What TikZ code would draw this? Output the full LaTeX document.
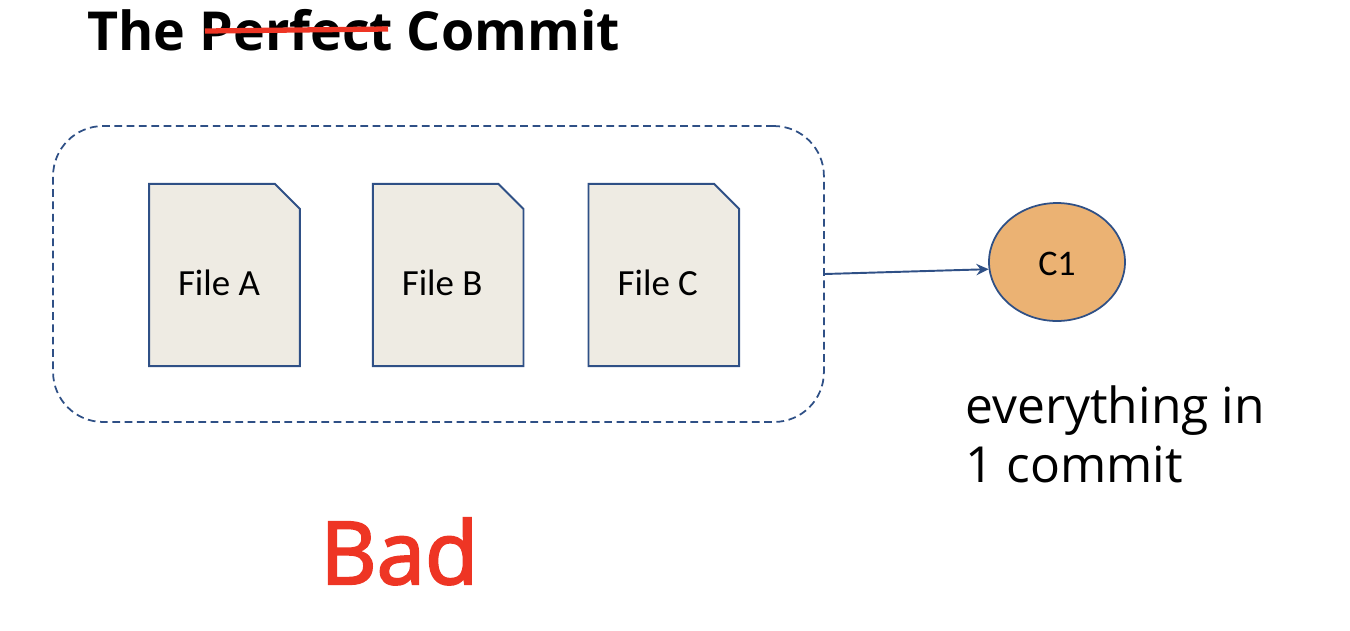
\documentclass[tikz,border=0pt]{standalone}
\usepackage{fontspec}
\setmainfont{Open Sans}
\newfontfamily\calibrifont{Carlito}
\newfontfamily\badfont[FakeBold=2.5]{Open Sans}
\usepackage{xcolor}
\usetikzlibrary{shapes.geometric,arrows.meta,positioning,backgrounds,calc}
\definecolor{navyline}{HTML}{2F5086}
\definecolor{badred}{HTML}{EE3524}
\definecolor{filefill}{HTML}{EEEBE3}
\definecolor{commitfill}{HTML}{EBB273}
\newcommand{\filecorner}[1]{%
  \draw[fileline] (#1.north west) -- ($(#1.north east)+(-25,0)$)
    -- ($(#1.north east)+(0,25)$) -- (#1.south east) -- (#1.south west) -- cycle;}
\begin{document}
\begin{tikzpicture}[
  x=0.02cm,y=-0.02cm,
  groupbox/.style={draw=navyline,dashed,dash pattern=on 4.4pt off 2.6pt,line width=1pt,
    rounded corners=1cm,minimum width=15.42cm,minimum height=5.92cm,inner sep=0pt},
  filebox/.style={minimum width=3.0cm,minimum height=3.63cm,inner sep=0pt},
  fileline/.style={draw=navyline,fill=filefill,line width=1.1pt,line join=miter},
  filelabel/.style={font=\calibrifont\fontsize{21}{25}\selectfont,inner sep=0pt},
  commit/.style={ellipse,draw=navyline,fill=commitfill,line width=1pt,
    minimum width=2.72cm,minimum height=2.36cm,inner sep=0pt,
    font=\calibrifont\fontsize{20.5}{24}\selectfont},
  arrow/.style={-{Stealth[length=7pt,width=6.5pt,inset=2.4pt]},draw=navyline,line width=1.1pt},
  strike/.style={draw=badred,line width=3pt}
]
\useasboundingbox (0,0) rectangle (1350,630);
\node[font=\bfseries\fontsize{30.6}{37}\selectfont,anchor=base west,inner sep=0pt] (title) at (87,50) {The Perfect Commit};
\coordinate (strikestart) at (205,31);
\coordinate (strikeend) at (388,29);
\draw[strike] (strikestart) -- (strikeend);

\node[groupbox] (group) at (438.5,274) {};
\node[filebox] (fileA) at (224.5,275) {};
\node[filebox, right=1.46cm of fileA] (fileB) {};
\node[filebox, right=1.30cm of fileB] (fileC) {};
\filecorner{fileA}
\filecorner{fileB}
\filecorner{fileC}
\node[filelabel] (labelA) at ($(fileA)+(-5.5,8)$) {File A};
\node[filelabel] (labelB) at ($(fileB)+(-6,8)$) {File B};
\node[filelabel] (labelC) at ($(fileC)+(-6,8)$) {File C};

\node[commit] (c1) at (1057,262) {\smash{\raisebox{-7.8pt}{C1}}};
\draw[arrow] (group.east) -- (c1.186);

\node[font=\fontsize{28.3}{33.4}\selectfont,align=left,anchor=base west,inner sep=0pt] (note) at (965,482) {everything in\\1 commit};
\node[font=\badfont\fontsize{49.5}{60}\selectfont,text=badred,anchor=base west,inner sep=0pt] (bad) at (320,584) {Bad};
\end{tikzpicture}
\end{document}
